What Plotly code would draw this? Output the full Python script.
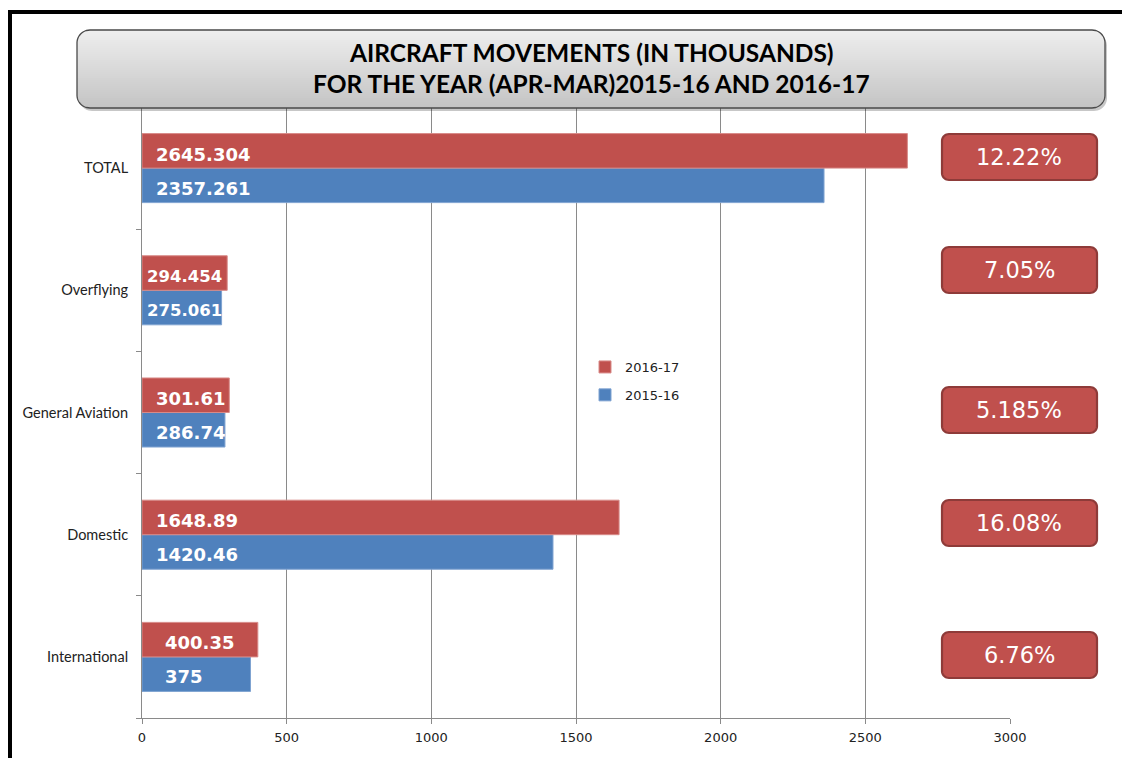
import math
import plotly.graph_objects as go

# ---------------- data ----------------
categories = ["International", "Domestic", "General Aviation", "Overflying", "TOTAL"]
values_2015_16 = [375, 1420.46, 286.74, 275.061, 2357.261]
values_2016_17 = [400.35, 1648.89, 301.61, 294.454, 2645.304]
labels_2015_16 = ["375", "1420.46", "286.74", "275.061", "2357.261"]
labels_2016_17 = ["400.35", "1648.89", "301.61", "294.454", "2645.304"]
growth_labels = ["6.76%", "16.08%", "5.185%", "7.05%", "12.22%"]
x_ticks = [0, 500, 1000, 1500, 2000, 2500, 3000]
series_names = ["2015-16", "2016-17"]
title_lines = ["AIRCRAFT MOVEMENTS (IN THOUSANDS)",
               "FOR THE YEAR (APR-MAR)2015-16 AND 2016-17"]

# ---------------- layout constants (pixels) ----------------
W, H = 1122, 758
PL, PR, PT, PB = 142, 1010, 107, 718
RED, BLUE = "#C0504D", "#4F81BD"
growth_box_tops = [632, 500, 387, 247, 134]   # top pixel of each growth box
label_xshift = [21, 12, 12, 3, 12]            # label offset from bar base, per category
label_size = [18, 18, 18, 16.5, 18]           # label font size, per category
BOX_X0, BOX_X1, BOX_H = 942, 1097, 46


def px(x):
    return (x - PL) / (PR - PL)


def py(y):
    return (PB - y) / (PB - PT)


def rounded_band(x0, y0, x1, y1, r, ya, yb, step=0.5):
    """Polygon (paper coords) of the slice ya..yb of a rounded rectangle given in pixels."""
    def inset(y):
        d = 0.0
        if y < y0 + r:
            d = (y0 + r) - y
        elif y > y1 - r:
            d = y - (y1 - r)
        d = min(d, r)
        return r - math.sqrt(max(r * r - d * d, 0.0))
    ys = []
    y = ya
    while y < yb:
        ys.append(y)
        y += step
    ys.append(yb)
    left = [(x0 + inset(y), y) for y in ys]
    right = [(x1 - inset(y), y) for y in reversed(ys)]
    pts = left + right
    return "M " + " L ".join(f"{px(a):.5f},{py(b):.5f}" for a, b in pts) + " Z"


shapes = []

# outer frame (left + top)
shapes.append(dict(type="path", xref="paper", yref="paper",
                   path=f"M {px(10)},{py(775)} L {px(10)},{py(12)} L {px(1125)},{py(12)}",
                   line=dict(color="black", width=4), layer="above"))

# title box: shadow, gradient bands, outline
TX0, TY0, TX1, TY1, TR = 77, 30, 1105, 108, 13
shapes.append(dict(type="path", xref="paper", yref="paper",
                   path=rounded_band(TX0 + 2, TY0 + 3, TX1 + 2, TY1 + 3, TR, TY0 + 3, TY1 + 3),
                   fillcolor="rgba(0,0,0,0.22)", line=dict(width=0), layer="above"))
nb = 39
for i in range(nb):
    ya = TY0 + (TY1 - TY0) * i / nb
    yb = min(TY0 + (TY1 - TY0) * (i + 1) / nb + 0.4, TY1)
    t = i / (nb - 1)
    c = int(round(238 - 42 * t))
    shapes.append(dict(type="path", xref="paper", yref="paper",
                       path=rounded_band(TX0, TY0, TX1, TY1, TR, ya, yb),
                       fillcolor=f"rgb({c},{c},{c})", line=dict(width=0), layer="above"))
shapes.append(dict(type="path", xref="paper", yref="paper",
                   path=rounded_band(TX0, TY0, TX1, TY1, TR, TY0, TY1),
                   fillcolor="rgba(0,0,0,0)", line=dict(color="#4a4a4a", width=1.3), layer="above"))

# growth boxes
annotations = []
for lab, top in zip(growth_labels, growth_box_tops):
    shapes.append(dict(type="path", xref="paper", yref="paper",
                       path=rounded_band(BOX_X0, top, BOX_X1, top + BOX_H, 7, top, top + BOX_H),
                       fillcolor=RED, line=dict(color="#8E3B39", width=2.2), layer="above"))
    annotations.append(dict(xref="paper", yref="paper", x=px((BOX_X0 + BOX_X1) / 2),
                            y=py(top + BOX_H / 2), text=lab, showarrow=False,
                            xanchor="center", yanchor="middle",
                            font=dict(family="DejaVu Sans", size=22.5, color="white")))

# title text
for line, yc in zip(title_lines, [52, 84]):
    annotations.append(dict(xref="paper", yref="paper", x=px(591), y=py(yc),
                            text=f"<b>{line}</b>", showarrow=False,
                            xanchor="center", yanchor="middle",
                            font=dict(family="Lato", size=24.5, color="black")))

# bar value labels
for cat, l15, l16, xs, fs in zip(categories, labels_2015_16, labels_2016_17,
                                 label_xshift, label_size):
    annotations.append(dict(x=0, y=cat, xref="x", yref="y", text=f"<b>{l16}</b>",
                            showarrow=False, xanchor="left", yanchor="middle",
                            xshift=xs, yshift=14,
                            font=dict(family="DejaVu Sans", size=fs, color="white")))
    annotations.append(dict(x=0, y=cat, xref="x", yref="y", text=f"<b>{l15}</b>",
                            showarrow=False, xanchor="left", yanchor="middle",
                            xshift=xs, yshift=-20,
                            font=dict(family="DejaVu Sans", size=fs, color="white")))

fig = go.Figure()
fig.add_trace(go.Bar(y=categories, x=values_2015_16, orientation="h", name=series_names[0],
                     marker=dict(color=BLUE, line=dict(color="#7FA3D1", width=1)),
                     legendgroup="a", legendrank=2, hoverinfo="x+y"))
fig.add_trace(go.Bar(y=categories, x=values_2016_17, orientation="h", name=series_names[1],
                     marker=dict(color=RED, line=dict(color="#D88A88", width=1)),
                     legendgroup="b", legendrank=1, hoverinfo="x+y"))

fig.update_layout(
    width=W, height=H,
    margin=dict(l=PL, r=W - PR, t=PT, b=H - PB, pad=0, autoexpand=False),
    paper_bgcolor="white", plot_bgcolor="white",
    barmode="group", bargap=0.435, bargroupgap=0,
    showlegend=True,
    legend=dict(x=px(585), y=py(352), xanchor="left", yanchor="top",
                traceorder="grouped", tracegroupgap=8,
                font=dict(family="DejaVu Sans", size=13, color="#222"),
                bgcolor="rgba(0,0,0,0)", itemwidth=30),
    xaxis=dict(range=[0, 3000], tickvals=x_ticks, ticktext=[str(v) for v in x_ticks],
               showgrid=True, gridcolor="#8a8a8a", gridwidth=1, zeroline=False,
               showline=True, linecolor="#8a8a8a", linewidth=1, automargin=False,
               ticks="outside", ticklen=5, tickcolor="#8a8a8a", ticklabelstandoff=2,
               tickfont=dict(family="DejaVu Sans", size=13, color="#222"), fixedrange=True),
    yaxis=dict(categoryorder="array", categoryarray=categories,
               showline=True, linecolor="#8a8a8a", linewidth=1, automargin=False,
               ticks="outside", ticklen=5, tickcolor="#8a8a8a", tickson="boundaries",
               ticklabelstandoff=10,
               showgrid=False, zeroline=False,
               tickfont=dict(family="Lato", size=14.5, color="#222"), fixedrange=True),
    shapes=shapes,
    annotations=annotations,
)

fig.write_html("out.html", config={"displayModeBar": False},
               post_script="document.body.style.margin='0';")
